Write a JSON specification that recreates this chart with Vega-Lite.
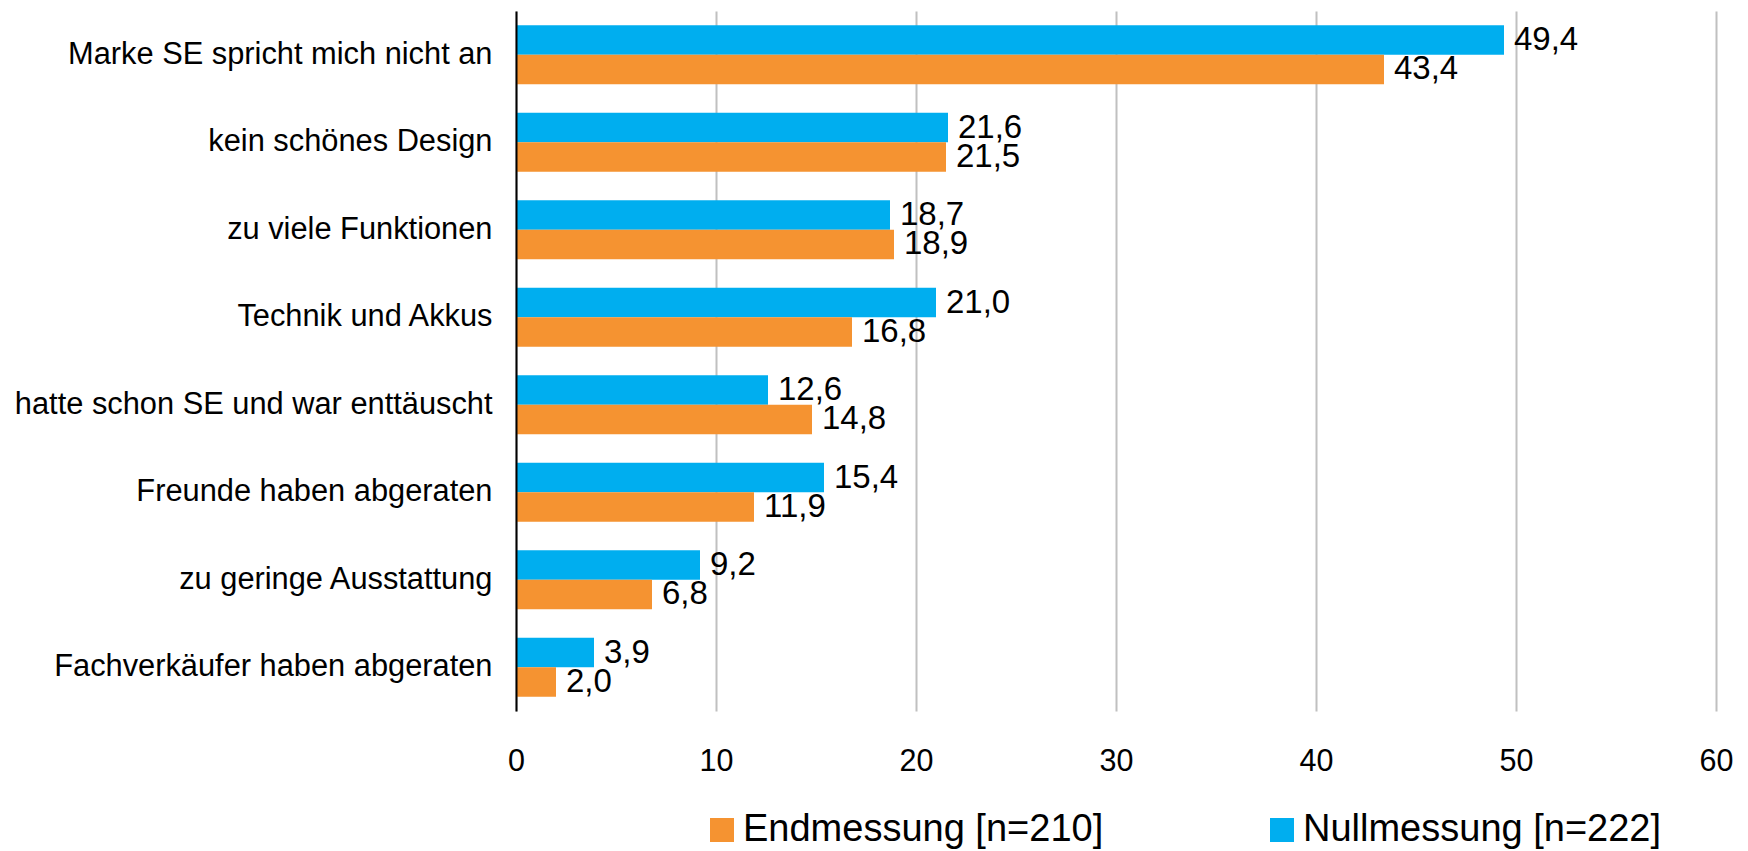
{
  "$schema": "https://vega.github.io/schema/vega-lite/v6.json",
  "width": 1200,
  "height": 700,
  "autosize": {"type": "none"},
  "padding": {"left": 516, "top": 11, "right": 32, "bottom": 140},
  "background": "white",
  "config": {
    "locale": {"number": {"decimal": ",", "thousands": ".", "grouping": [3], "currency": ["", " €"]}},
    "view": {"stroke": null},
    "font": "Liberation Sans"
  },
  "data": {
    "values": [
      {"grund": "Marke SE spricht mich nicht an", "serie": "Nullmessung [n=222]", "wert": 49.4},
      {"grund": "Marke SE spricht mich nicht an", "serie": "Endmessung [n=210]", "wert": 43.4},
      {"grund": "kein schönes Design", "serie": "Nullmessung [n=222]", "wert": 21.6},
      {"grund": "kein schönes Design", "serie": "Endmessung [n=210]", "wert": 21.5},
      {"grund": "zu viele Funktionen", "serie": "Nullmessung [n=222]", "wert": 18.7},
      {"grund": "zu viele Funktionen", "serie": "Endmessung [n=210]", "wert": 18.9},
      {"grund": "Technik und Akkus", "serie": "Nullmessung [n=222]", "wert": 21.0},
      {"grund": "Technik und Akkus", "serie": "Endmessung [n=210]", "wert": 16.8},
      {"grund": "hatte schon SE und war enttäuscht", "serie": "Nullmessung [n=222]", "wert": 12.6},
      {"grund": "hatte schon SE und war enttäuscht", "serie": "Endmessung [n=210]", "wert": 14.8},
      {"grund": "Freunde haben abgeraten", "serie": "Nullmessung [n=222]", "wert": 15.4},
      {"grund": "Freunde haben abgeraten", "serie": "Endmessung [n=210]", "wert": 11.9},
      {"grund": "zu geringe Ausstattung", "serie": "Nullmessung [n=222]", "wert": 9.2},
      {"grund": "zu geringe Ausstattung", "serie": "Endmessung [n=210]", "wert": 6.8},
      {"grund": "Fachverkäufer haben abgeraten", "serie": "Nullmessung [n=222]", "wert": 3.9},
      {"grund": "Fachverkäufer haben abgeraten", "serie": "Endmessung [n=210]", "wert": 2.0}
    ]
  },
  "encoding": {
    "y": {
      "field": "grund", "type": "nominal", "sort": null,
      "scale": {"paddingInner": 0.326, "paddingOuter": 0.163},
      "axis": {
        "title": null, "domain": true, "domainColor": "#000000", "domainWidth": 2,
        "ticks": false, "tickSize": 0, "labelPadding": 24, "labelFontSize": 30.8,
        "labelColor": "#000000", "labelLimit": 700, "grid": false, "zindex": 1
      }
    },
    "yOffset": {"field": "serie", "type": "nominal", "sort": "descending", "scale": {"paddingInner": 0, "paddingOuter": 0}},
    "x": {
      "field": "wert", "type": "quantitative",
      "scale": {"domain": [0, 60], "nice": false},
      "axis": {
        "title": null, "values": [0, 10, 20, 30, 40, 50, 60], "format": "d",
        "domain": false, "ticks": false, "tickSize": 0, "labelPadding": 35, "labelFlush": false,
        "labelFontSize": 30.5, "labelColor": "#000000",
        "grid": true, "gridColor": "#C0C0C0", "gridWidth": 2
      }
    }
  },
  "layer": [
    {
      "mark": {"type": "bar"},
      "encoding": {
        "color": {
          "field": "serie", "type": "nominal",
          "scale": {"domain": ["Endmessung [n=210]", "Nullmessung [n=222]"], "range": ["#F59331", "#00AEEF"]},
          "legend": {
            "title": null, "orient": "none", "legendX": 187, "legendY": 800,
            "direction": "horizontal", "columns": 2, "columnPadding": 159, "padding": 0,
            "symbolType": "square", "symbolSize": 576, "symbolStrokeWidth": 0,
            "labelFontSize": 38, "labelColor": "#000000", "labelOffset": 2, "labelLimit": 600
          }
        }
      }
    },
    {
      "mark": {"type": "text", "align": "left", "baseline": "middle", "dx": 10, "fontSize": 33, "color": "#000000"},
      "encoding": {"text": {"field": "wert", "type": "quantitative", "format": ".1f"}}
    }
  ]
}
